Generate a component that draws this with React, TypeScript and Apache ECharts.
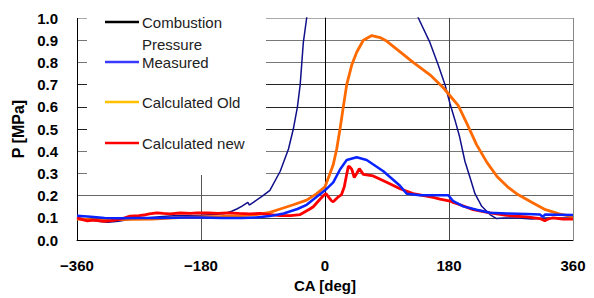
import React, { useEffect, useRef } from 'react';
import * as echarts from 'echarts';

// Crank angle ticks
const xTicks = [-360, -180, 0, 180, 360];
const yTicks = [0, 0.1, 0.2, 0.3, 0.4, 0.5, 0.6, 0.7, 0.8, 0.9, 1.0];

const legendLabels = ['Combustion\nPressure', 'Measured', 'Calculated Old', 'Calculated new'];

// Combustion Pressure (goes off scale above 1.0 MPa)
const caComb = [-360, -345, -330, -315, -300, -280, -260, -240, -220, -200, -180, -160, -145, -135.5, -128, -121, -112, -110, -104, -90, -80, -65, -53, -46, -40, -36, -31.5, -26.6, -20, -10, 0, 10, 20, 40, 60, 80, 100, 120, 135.5, 152.4, 164.5, 174.2, 181.5, 188.7, 195, 203.2, 210.5, 217.7, 227.5, 239.5, 249, 260, 280, 300, 320, 340, 360];
const pComb = [0.1, 0.095, 0.085, 0.08, 0.085, 0.095, 0.1, 0.105, 0.11, 0.11, 0.112, 0.115, 0.12, 0.13, 0.14, 0.152, 0.17, 0.158, 0.17, 0.2, 0.224, 0.31, 0.41, 0.5, 0.6, 0.7, 0.889, 1.0, 1.4, 2.2, 3.0, 3.5, 3.5, 3.0, 2.4, 1.9, 1.5, 1.2, 1.0, 0.889, 0.787, 0.7, 0.614, 0.54, 0.47, 0.354, 0.282, 0.209, 0.152, 0.115, 0.097, 0.1, 0.1, 0.095, 0.1, 0.1, 0.1];

// Measured
const caMeas = [-360, -340, -320, -300, -270, -240, -200, -180, -150, -120, -100, -80, -60, -40, -26.6, -12, 0, 12, 21.8, 31.5, 46, 60.5, 84.7, 108.9, 118.6, 137.9, 179, 186.2, 200.8, 220, 239.5, 263.7, 292.7, 312, 316, 319.3, 360];
const pMeas = [0.11, 0.105, 0.1, 0.098, 0.1, 0.1, 0.102, 0.102, 0.1, 0.1, 0.102, 0.108, 0.12, 0.14, 0.159, 0.195, 0.224, 0.26, 0.318, 0.361, 0.373, 0.361, 0.31, 0.245, 0.209, 0.202, 0.202, 0.175, 0.152, 0.137, 0.123, 0.12, 0.118, 0.115, 0.105, 0.115, 0.113];

// Calculated Old
const caOld = [-360, -340, -320, -300, -280, -250, -220, -200, -180, -150, -120, -100, -80, -65, -46, -26.6, -12, 0, 2.4, 7.3, 12, 17, 21.8, 26.6, 31.5, 38.7, 46, 55.6, 68, 80, 89.5, 104, 128, 152.4, 171.7, 181.5, 193.5, 205.7, 220, 235, 250, 265, 280, 300, 320, 340, 360];
const pOld = [0.095, 0.092, 0.09, 0.092, 0.093, 0.095, 0.1, 0.102, 0.105, 0.107, 0.11, 0.115, 0.125, 0.14, 0.159, 0.18, 0.209, 0.24, 0.26, 0.3, 0.34, 0.41, 0.5, 0.6, 0.7, 0.787, 0.846, 0.9, 0.921, 0.912, 0.896, 0.86, 0.8, 0.744, 0.686, 0.65, 0.605, 0.527, 0.43, 0.35, 0.285, 0.24, 0.205, 0.17, 0.137, 0.118, 0.105];

// Calculated new
const caNew = [-360, -352, -345, -335, -321, -310, -297, -283, -270, -263, -255, -244, -235, -225, -210, -195, -186, -170, -155, -142, -125, -110, -95, -80, -65, -50, -36, -22, -17, -7, -2.4, 1.5, 5, 9.7, 12, 19.4, 24, 28, 31.5, 33.9, 36, 38.7, 42.5, 46, 49.8, 55.6, 70, 89.5, 108.9, 128, 157, 167, 181.5, 186, 196, 215, 239.5, 263.7, 292.7, 312, 319, 324, 331, 345, 360];
const pNew = [0.1, 0.092, 0.087, 0.09, 0.084, 0.088, 0.094, 0.108, 0.11, 0.113, 0.118, 0.123, 0.12, 0.118, 0.122, 0.12, 0.123, 0.122, 0.12, 0.123, 0.12, 0.118, 0.12, 0.115, 0.11, 0.11, 0.115, 0.14, 0.15, 0.185, 0.2, 0.209, 0.195, 0.176, 0.173, 0.195, 0.205, 0.24, 0.296, 0.332, 0.33, 0.32, 0.282, 0.3, 0.322, 0.296, 0.289, 0.26, 0.231, 0.209, 0.192, 0.185, 0.176, 0.17, 0.159, 0.137, 0.123, 0.111, 0.105, 0.097, 0.087, 0.095, 0.1, 0.095, 0.094];

const pair = (xs: number[], ys: number[]) => xs.map((x, i) => [x, ys[i]]);

export default function App() {
  const ref = useRef<HTMLDivElement>(null);
  useEffect(() => {
    const chart = echarts.init(ref.current!, null, { renderer: 'svg' });
    const font = "'Liberation Sans', Arial, sans-serif";
    const legendColors = ['#000000', '#3a3aff', '#ffc000', '#ff0000'];
    const legendY = [22, 62, 102, 143];
    const legendEls: any[] = [
      { type: 'rect', shape: { x: 87, y: 8, width: 179, height: 167 }, style: { fill: '#fff' }, z: 10 },
    ];
    legendLabels.forEach((lab, i) => {
      legendEls.push({
        type: 'line',
        shape: { x1: 105, y1: legendY[i], x2: 139, y2: legendY[i] },
        style: { stroke: legendColors[i], lineWidth: 2.5 },
        z: 11,
      });
      legendEls.push({
        type: 'text',
        x: 142,
        y: legendY[i] - 11,
        style: {
          text: lab,
          font: `15px ${font}`,
          fill: '#222',
          lineHeight: 22,
          verticalAlign: 'top',
          align: 'left',
        },
        z: 11,
      });
    });

    chart.setOption({
      animation: false,
      backgroundColor: '#fff',
      grid: { left: 77, right: 21, top: 18, bottom: 50, containLabel: false },
      xAxis: {
        type: 'value',
        min: xTicks[0],
        max: xTicks[xTicks.length - 1],
        interval: 180,
        name: 'CA [deg]',
        nameLocation: 'middle',
        nameGap: 31,
        nameTextStyle: { fontSize: 15, fontWeight: 'bold', color: '#000', fontFamily: font },
        axisLine: { show: true, onZero: false, lineStyle: { color: '#000', width: 1 } },
        axisTick: { show: false },
        axisLabel: {
          fontSize: 15,
          fontWeight: 'bold',
          color: '#000',
          fontFamily: font,
          margin: 18,
          formatter: (v: number) => (v < 0 ? '\u2212' + Math.abs(v) : String(v)),
        },
        splitLine: { show: true, lineStyle: { color: ['#000', '#555', '#555', '#444', '#888'], width: 1 } },
      },
      yAxis: {
        type: 'value',
        min: yTicks[0],
        max: yTicks[yTicks.length - 1],
        interval: 0.1,
        name: 'P [MPa]',
        nameLocation: 'middle',
        nameGap: 47,
        nameRotate: 90,
        nameTextStyle: { fontSize: 16, fontWeight: 'bold', color: '#000', fontFamily: font },
        axisLine: { show: true, lineStyle: { color: '#000', width: 1 } },
        axisTick: { show: false },
        axisLabel: {
          fontSize: 15,
          fontWeight: 'bold',
          color: '#000',
          fontFamily: font,
          margin: 19,
          formatter: (v: number) => v.toFixed(1),
        },
        splitLine: {
          show: true,
          lineStyle: {
            color: ['#000', '#444', '#666', '#777', '#777', '#222', '#222', '#222', '#777', '#777', '#aaa'],
            width: 1,
          },
        },
      },
      series: [
        {
          name: 'Combustion Pressure',
          type: 'line',
          data: pair(caComb, pComb),
          showSymbol: false,
          clip: true,
          lineStyle: { color: '#10108a', width: 1.5 },
          itemStyle: { color: '#10108a' },
        },
        {
          name: 'Calculated Old',
          type: 'line',
          data: pair(caOld, pOld),
          showSymbol: false,
          clip: true,
          lineStyle: { color: '#ff6a00', width: 2.8 },
          itemStyle: { color: '#ff6a00' },
        },
        {
          name: 'Calculated new',
          type: 'line',
          data: pair(caNew, pNew),
          showSymbol: false,
          clip: true,
          lineStyle: { color: '#ff0000', width: 2.8 },
          itemStyle: { color: '#ff0000' },
        },
        {
          name: 'Measured',
          type: 'line',
          data: pair(caMeas, pMeas),
          showSymbol: false,
          clip: true,
          lineStyle: { color: '#0a24ff', width: 2.5 },
          itemStyle: { color: '#0a24ff' },
        },
      ],
      graphic: legendEls,
    });
    return () => chart.dispose();
  }, []);
  return (
    <div
      ref={ref}
      style={{ width: 594, height: 298, position: 'absolute', left: 0, top: 0 }}
    />
  );
}
